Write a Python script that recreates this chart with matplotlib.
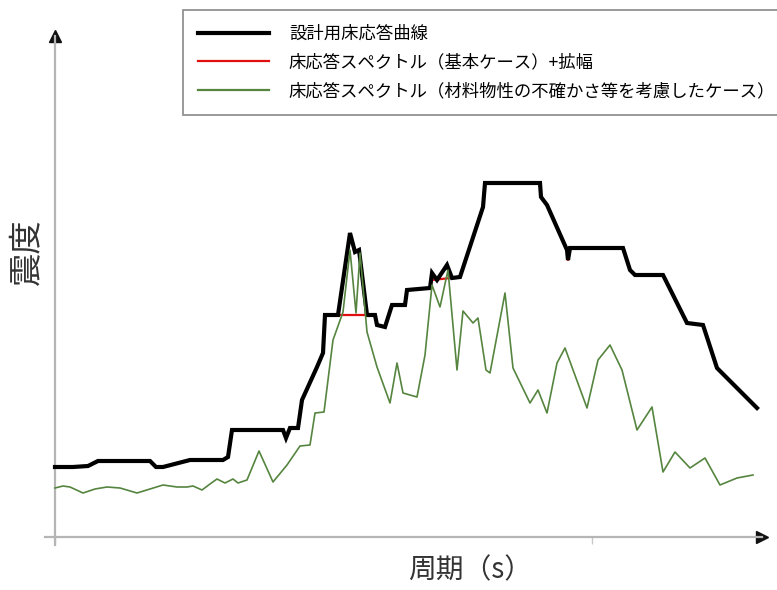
import matplotlib.pyplot as plt

plt.rcParams['font.family'] = ['Noto Sans CJK JP', 'DejaVu Sans']

# 周期（横軸）と震度（縦軸）は画像から読み取った相対値
design_x = [0, 18, 33, 43, 95, 101, 108, 135, 168, 173, 177, 228, 231, 235, 243, 247,
            262, 268, 270, 283, 295, 300, 304, 312, 320, 322, 330, 337, 350, 352, 375,
            377, 382, 392, 397, 405, 428, 430, 485, 486, 492, 512, 513, 515, 568, 575,
            580, 608, 632, 648, 662, 702]
design_y = [70, 70, 71, 76, 76, 70, 70, 77, 77, 80, 107, 107, 99, 109, 109, 137,
            170, 184, 222, 222, 304, 285, 287, 222, 222, 212, 210, 232, 232, 247, 249,
            264, 257, 272, 259, 260, 330, 354, 354, 340, 332, 287, 277, 289, 289, 267,
            262, 262, 214, 212, 169, 129]

base_x = [0, 18, 33, 43, 95, 101, 108, 135, 168, 173, 177, 228, 231, 235, 243, 247,
          262, 268, 270, 283, 312, 320, 322, 330, 337, 350, 352, 375, 377, 405, 428,
          430, 485, 486, 492, 512, 513, 515, 568, 575, 580, 608, 632, 648, 662, 702]
base_y = [70, 70, 71, 76, 76, 70, 70, 77, 77, 80, 107, 107, 99, 109, 109, 137,
          170, 184, 222, 222, 222, 222, 212, 210, 232, 232, 247, 249, 257, 260, 330,
          354, 354, 340, 332, 287, 277, 289, 289, 267, 262, 262, 214, 212, 169, 129]

case_x = [0, 8, 15, 28, 40, 52, 65, 82, 95, 108, 122, 132, 138, 147, 155, 162, 170,
          178, 183, 192, 204, 218, 232, 245, 255, 260, 269, 278, 288, 295, 301, 305,
          312, 322, 335, 342, 348, 362, 370, 377, 385, 393, 402, 408, 418, 423, 431,
          435, 450, 458, 475, 483, 492, 502, 510, 532, 543, 555, 567, 582, 597, 608,
          620, 635, 650, 665, 682, 698]
case_y = [49, 51, 50, 44, 48, 50, 49, 44, 48, 52, 50, 50, 51, 47, 53, 58, 54,
          58, 54, 57, 86, 55, 72, 91, 92, 124, 125, 197, 225, 287, 224, 284,
          205, 170, 134, 174, 144, 140, 182, 252, 230, 267, 167, 226, 214, 219, 167,
          164, 244, 169, 134, 147, 124, 174, 189, 129, 177, 192, 167, 107, 130, 65,
          85, 69, 79, 52, 59, 62]

labels = ['設計用床応答曲線',
          '床応答スペクトル（基本ケース）+拡幅',
          '床応答スペクトル（材料物性の不確かさ等を考慮したケース）']

fig = plt.figure(figsize=(7.77, 5.90), dpi=100)
ax = fig.add_axes([45 / 777, 45 / 590, 717 / 777, 509 / 590])

l_base, = ax.plot(base_x, base_y, color='#e01010', lw=1.6, zorder=2)
l_design, = ax.plot(design_x, design_y, color='black', lw=3.0, zorder=3,
                    solid_joinstyle='miter')
l_case, = ax.plot(case_x, case_y, color='#55853f', lw=1.2, zorder=4)

ax.set_xlim(-10, 707)
ax.set_ylim(-8, 501)

# 軸（矢印付き）
for side in ['top', 'right']:
    ax.spines[side].set_visible(False)
ax.spines['left'].set_position(('data', 0))
ax.spines['bottom'].set_position(('data', 0))
for side in ['left', 'bottom']:
    ax.spines[side].set_color('#b5b5b5')
    ax.spines[side].set_linewidth(1.6)
ax.plot(1, 0, '>', color='#111111', ms=9, transform=ax.get_yaxis_transform(), clip_on=False)
ax.plot(0, 1, '^', color='#111111', ms=9, transform=ax.get_xaxis_transform(), clip_on=False)

ax.set_xticks([0, 537])
ax.set_xticklabels([])
ax.set_yticks([])
ax.tick_params(axis='x', direction='out', length=5, color='#c8c8c8', width=1)

fig.text(470 / 777, 1 - 570 / 590, '周期（s）', ha='center', va='center',
         fontsize=20, color='#333333')
fig.text(28 / 777, 1 - 252 / 590, '震度', ha='center', va='center',
         rotation=90, fontsize=24, color='#333333')

leg = fig.legend([l_design, l_base, l_case], labels, loc='upper left',
                 bbox_to_anchor=(183 / 777, 1 - 10 / 590), fontsize=12.5,
                 frameon=True, fancybox=False, edgecolor='#777777',
                 handlelength=4.1, handletextpad=1.15, borderpad=0.85,
                 labelspacing=0.62, borderaxespad=0)
leg.get_frame().set_linewidth(1.3)
leg.legend_handles[0].set_linewidth(3.0)
leg.legend_handles[1].set_linewidth(1.6)
leg.legend_handles[2].set_linewidth(1.6)

fig.savefig('out.png', dpi=100)
